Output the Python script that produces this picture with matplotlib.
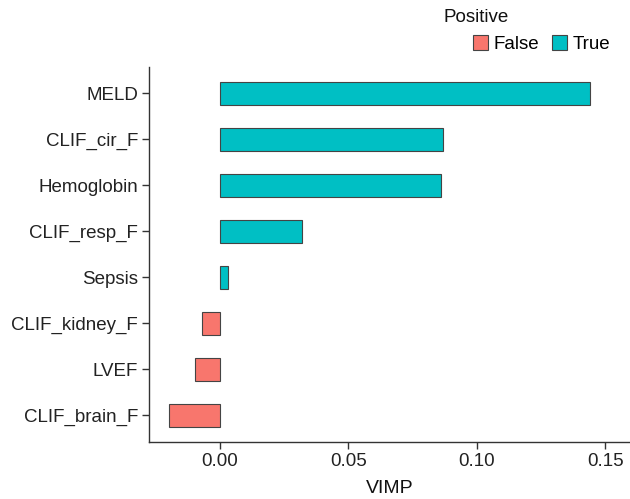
# -*- coding: utf-8 -*-
"""
VIMP bar chart, ggplot-like style
"""

import matplotlib
matplotlib.use('Agg')
import matplotlib.pyplot as plt
from matplotlib.patches import Patch

# %% Data

variables = ['CLIF_brain_F', 'LVEF', 'CLIF_kidney_F', 'Sepsis',
             'CLIF_resp_F', 'Hemoglobin', 'CLIF_cir_F', 'MELD']
vimp = [-0.0196, -0.0096, -0.0070, 0.0031, 0.0319, 0.0862, 0.0869, 0.1439]
xticks = [0.00, 0.05, 0.10, 0.15]
xticklabels = ['0.00', '0.05', '0.10', '0.15']

col_false = '#F8766D'
col_true = '#00BFC4'
dark = '#333333'

plt.rcParams['font.family'] = ['Liberation Sans', 'DejaVu Sans']

# %% Plot

fig = plt.figure(figsize=(6.30, 4.99), dpi=100)
ax = fig.add_axes([149/630, 1 - 441.7/499, (630 - 149)/630, (441.7 - 67)/499])

colors = [col_true if v > 0 else col_false for v in vimp]
ax.barh(range(len(variables)), vimp, height=0.5, color=colors,
        edgecolor='#444444', linewidth=0.8)

ax.set_yticks(range(len(variables)))
ax.set_yticklabels(variables, fontsize=13.5, color='#222222')
ax.set_xticks(xticks)
ax.set_xticklabels(xticklabels, fontsize=13.5, color='#222222')
ax.set_xlim(-0.0275, 0.1596)
ax.set_ylim(-0.58, 7.57)
ax.set_xlabel('VIMP', fontsize=14, color='#111111', labelpad=7)

for s in ['top', 'right']:
    ax.spines[s].set_visible(False)
for s in ['left', 'bottom']:
    ax.spines[s].set_color(dark)
    ax.spines[s].set_linewidth(1.0)
ax.tick_params(length=5, width=1.0, color=dark, pad=3)

# Legend
fig.text(443/630, 1 - 18/499, 'Positive', fontsize=13.5, color='#111111',
         ha='left', va='center')
handles = [Patch(facecolor=col_false, edgecolor='#444444', linewidth=0.8, label='False'),
           Patch(facecolor=col_true, edgecolor='#444444', linewidth=0.8, label='True')]
fig.legend(handles=handles, loc='center left', bbox_to_anchor=(473/630, 1 - 44/499),
           ncol=2, frameon=False, fontsize=13.5, handlelength=0.8, handleheight=0.8,
           handletextpad=0.3, columnspacing=0.7, borderpad=0, borderaxespad=0)

fig.savefig('out.png', dpi=100)
